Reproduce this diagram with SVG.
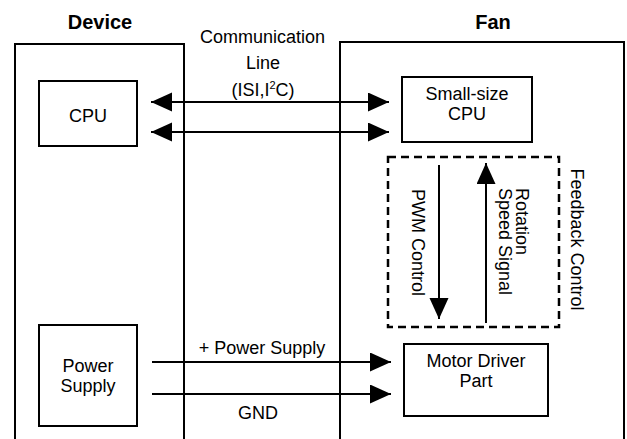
<svg xmlns="http://www.w3.org/2000/svg" width="627" height="439" viewBox="0 0 627 439">
<style>
  .t { font-family: "Liberation Sans", Arial, sans-serif; font-size: 18px; fill: #000; }
  .h { font-family: "Liberation Sans", Arial, sans-serif; font-size: 20px; font-weight: bold; fill: #000; }
  .box { fill: #fff; stroke: #000; stroke-width: 2; }
  .frame { fill: none; stroke: #000; stroke-width: 2; }
  .dash { fill: none; stroke: #000; stroke-width: 2.5; stroke-dasharray: 8 5; }
  .ln { stroke: #000; stroke-width: 2; fill: none; }
</style>
<defs>
  <marker id="ah" markerUnits="userSpaceOnUse" markerWidth="22" markerHeight="20" refX="21" refY="9.5" orient="auto-start-reverse">
    <path d="M0,0 L21,9.5 L0,19 z" fill="#000"/>
  </marker>
</defs>
<rect width="627" height="439" fill="#fff"/>

<g id="device">
  <path class="frame" d="M15,440 V44 H184 V440"/>
  <text class="h" x="100" y="29" text-anchor="middle">Device</text>
</g>
<g id="fan">
  <path class="frame" d="M340,440 V42 H624 V440"/>
  <text class="h" x="493" y="29" text-anchor="middle">Fan</text>
</g>

<g id="cpu">
  <rect class="box" x="39" y="81" width="98" height="65"/>
  <text class="t" x="88" y="122" text-anchor="middle">CPU</text>
</g>
<g id="power-supply">
  <rect class="box" x="39" y="325" width="98" height="101"/>
  <text class="t" text-anchor="middle"><tspan x="88" y="371.5">Power</tspan><tspan x="88" y="392">Supply</tspan></text>
</g>
<g id="small-cpu">
  <rect class="box" x="402" y="77" width="130" height="65"/>
  <text class="t" text-anchor="middle"><tspan x="467" y="99.5">Small-size</tspan><tspan x="467" y="120">CPU</tspan></text>
</g>
<g id="motor-driver">
  <rect class="box" x="404" y="344" width="144" height="72"/>
  <text class="t" text-anchor="middle"><tspan x="476" y="366.5">Motor Driver</tspan><tspan x="476" y="387">Part</tspan></text>
</g>
<g id="feedback">
  <rect class="dash" x="388" y="157" width="171" height="170"/>
  <text class="t" transform="translate(571,239.5) rotate(90)" text-anchor="middle">Feedback Control</text>
</g>

<g id="connectors">
  <line class="ln" x1="151" y1="102" x2="389" y2="102" marker-start="url(#ah)" marker-end="url(#ah)"/>
  <line class="ln" x1="151" y1="132" x2="389" y2="132" marker-start="url(#ah)" marker-end="url(#ah)"/>
  <line class="ln" x1="152" y1="362" x2="391" y2="362" marker-end="url(#ah)"/>
  <line class="ln" x1="152" y1="394" x2="391" y2="394" marker-end="url(#ah)"/>
  <line class="ln" x1="439" y1="165" x2="439" y2="319" marker-end="url(#ah)"/>
  <line class="ln" x1="486" y1="323" x2="486" y2="163" marker-end="url(#ah)"/>
  <text class="t" x="262.5" y="43" text-anchor="middle">Communication</text>
  <text class="t" x="263" y="69" text-anchor="middle">Line</text>
  <text class="t" x="263" y="96" text-anchor="middle">(ISI,I<tspan font-size="11" dy="-7">2</tspan><tspan dy="7">C)</tspan></text>
  <text class="t" x="262" y="354" text-anchor="middle">+ Power Supply</text>
  <text class="t" x="258" y="419" text-anchor="middle">GND</text>
  <text class="t" transform="translate(412,242.5) rotate(90)" text-anchor="middle">PWM Control</text>
  <text class="t" transform="translate(516,188) rotate(90)"><tspan x="0" y="0">Rotation</tspan><tspan x="0" y="17">Speed Signal</tspan></text>
</g>
</svg>
